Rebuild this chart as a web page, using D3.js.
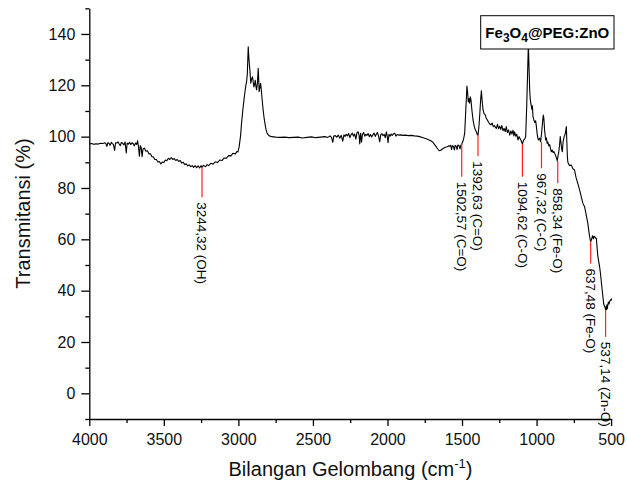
<!DOCTYPE html>
<html>
<head>
<meta charset="utf-8">
<script src="https://cdn.jsdelivr.net/npm/d3@7"></script>
<style>
  body { margin: 0; background: #fff; }
  svg text { font-family: "Liberation Sans", Arial, sans-serif; }
</style>
</head>
<body>
<div id="chart"></div>
<script>
// FTIR spectrum, wavenumber (cm-1) and transmittance (%)
var wavenumber = [4000,3985,3970,3955,3940,3925,3910,3895,3888,3882,3876,3868,3860,3852,3845,3838,3830,3824,3815,3808,
  3800,3792,3785,3776,3768,3760,3752,3746,3738,3730,3722,3714,3706,3698,3690,3682,3676,3670,3664,3658,
  3652,3646,3640,3630,3620,3610,3600,3590,3580,3570,3560,3550,3540,3530,3520,3510,3500,3490,3480,3470,
  3460,3450,3440,3430,3420,3410,3400,3390,3380,3370,3360,3350,3340,3330,3320,3310,3300,3290,3280,3270,
  3260,3250,3244,3235,3220,3210,3200,3185,3170,3155,3140,3125,3110,3095,3080,3065,3050,3037,3020,3010,
  3003,2995,2985,2979,2970,2962,2957,2950,2945,2940,2934,2929,2923,2917,2911,2905,2900,2896,2891,2887,
  2882,2878,2872,2867,2863,2861,2856,2851,2845,2840,2834,2828,2822,2815,2807,2795,2778,2750,2720,2690,
  2660,2630,2600,2570,2540,2510,2480,2450,2420,2400,2385,2375,2367,2360,2350,2340,2330,2320,2310,2300,
  2292,2284,2276,2268,2260,2252,2244,2236,2228,2220,2212,2205,2197,2190,2186,2180,2174,2168,2160,2152,
  2145,2138,2130,2122,2114,2106,2098,2090,2082,2075,2068,2060,2052,2045,2038,2030,2022,2015,2007,2002,
  1996,1990,1982,1975,1968,1960,1951,1944,1935,1925,1910,1895,1880,1860,1840,1820,1800,1784,1765,1750,
  1739,1725,1710,1695,1685,1675,1665,1655,1650,1640,1627,1615,1600,1590,1583,1576,1570,1565,1558,1551,
  1546,1540,1533,1528,1520,1514,1508,1502,1495,1488,1482,1475,1470,1467,1462,1458,1453,1449,1444,1440,
  1433,1426,1418,1410,1404,1398,1393,1388,1381,1375,1370,1365,1359,1352,1345,1337,1330,1322,1314,1306,
  1298,1290,1282,1275,1270,1262,1255,1247,1240,1233,1225,1218,1210,1203,1196,1188,1180,1172,1165,1158,
  1152,1147,1140,1133,1125,1118,1110,1103,1095,1088,1080,1073,1066,1060,1055,1050,1046,1042,1037,1031,
  1028,1024,1018,1012,1006,1001,995,988,980,973,966,960,955,951,946,939,934,929,924,918,
  912,906,901,895,889,884,879,873,867,861,856,851,846,841,836,831,827,822,815,808,
  804,800,797,793,790,780,767,756,745,735,722,711,700,689,678,667,656,650,644,640,
  637,633,629,625,622,618,614,611,607,603,599,595,590,585,577,570,563,555,550,545,
  540,537,534,531,528,525,522,518,514,510,505,500,497];

var transmittance = [97.1,97.3,97.0,97.2,97.1,97.4,97.3,97.6,97.2,96.2,97.6,97.4,96.6,97.8,97.3,96.9,94.6,97.6,97.5,98.0,
  97.2,96.5,97.7,97.4,96.8,97.9,93.6,97.5,97.1,97.8,96.9,97.6,97.3,96.4,97.5,97.0,98.4,96.0,92.4,96.5,
  95.8,92.2,95.2,95.5,94.3,94.5,93.3,93.3,92.2,92.1,91.1,91.1,90.1,90.3,89.4,90.1,89.9,90.9,90.6,91.6,
  91.1,91.8,91.1,91.5,90.7,91.1,90.3,90.7,89.7,90.0,89.1,89.4,88.6,89.0,88.3,88.7,88.0,88.7,87.9,88.6,
  87.8,88.7,88.0,88.8,88.3,89.1,88.7,89.6,89.3,90.2,89.9,90.9,90.7,91.7,91.6,92.6,92.5,93.5,93.3,94.2,
  94.0,96.0,100.5,105.2,110.5,114.5,117.0,120.0,121.4,124.5,135.0,130.0,126.0,120.8,122.5,123.3,121.0,119.4,120.5,122.0,
  119.5,118.2,121.0,126.6,121.5,117.5,119.0,120.8,117.5,114.0,110.4,107.5,105.2,102.8,101.3,100.4,100.0,99.8,99.7,99.8,
  99.6,99.7,99.8,99.5,99.7,99.9,99.6,99.8,100.0,99.7,100.3,99.6,97.8,100.2,100.4,99.8,100.6,99.4,100.5,98.2,
  100.7,100.1,100.9,100.3,101.2,99.6,100.8,101.4,100.2,101.0,99.0,101.5,101.9,100.4,97.2,101.3,97.8,100.8,101.6,100.2,
  100.9,100.5,101.2,100.0,100.8,99.9,100.7,101.4,100.1,100.9,101.6,100.3,98.0,100.8,101.2,100.4,100.9,99.6,101.9,100.3,
  97.6,100.9,100.2,101.0,100.5,101.1,101.3,100.2,100.8,100.6,100.7,100.5,100.6,100.4,100.5,100.3,100.2,100.0,99.7,99.4,
  99.2,98.8,98.4,97.8,97.0,96.2,95.4,94.6,94.5,94.8,95.4,95.8,96.1,96.4,96.3,96.6,94.9,96.5,96.3,94.8,
  96.6,96.4,95.0,96.7,96.5,95.2,96.6,97.1,98.0,99.5,101.4,110.0,116.0,119.7,117.0,113.5,114.8,113.0,115.5,114.3,
  110.0,106.5,104.0,102.6,101.9,100.9,100.6,103.0,108.5,114.5,117.9,114.0,110.4,109.0,108.6,107.1,106.5,105.6,104.9,104.6,
  105.3,103.9,104.3,103.5,103.2,104.8,103.1,104.1,102.8,104.3,102.3,103.2,102.0,103.9,101.6,102.6,100.6,102.2,101.0,102.5,
  100.3,101.9,100.2,100.9,98.7,100.0,99.2,98.4,97.1,98.5,99.0,100.0,112.0,125.0,136.0,126.0,118.0,114.3,112.5,110.5,
  112.0,107.8,106.5,105.5,106.2,103.9,100.5,98.7,99.4,98.0,101.5,105.5,108.4,107.0,102.5,98.7,99.5,97.4,97.9,96.4,
  96.9,95.3,94.1,94.8,93.8,94.2,93.5,92.8,91.8,90.6,92.5,94.0,96.5,100.0,97.5,95.0,94.1,98.0,100.0,101.0,
  102.5,103.9,98.0,92.0,90.0,88.8,88.9,87.5,87.0,84.0,81.5,79.2,76.5,74.0,72.7,69.5,66.2,63.5,61.0,59.8,
  59.1,59.7,60.3,61.4,61.0,60.2,61.2,61.0,60.8,60.4,60.4,57.5,54.0,52.0,49.3,46.0,42.0,37.6,35.0,34.0,
  33.5,32.4,33.8,32.6,34.5,33.0,34.4,35.6,34.8,35.7,36.4,36.2,37.0];

// assigned bands: position, transmittance at the band, lower end of the marker
var bandWn = [3244, 1502, 1393, 1095, 967, 858, 637, 537];
var bandTop = [88.0, 97.1, 100.6, 97.1, 98.0, 90.6, 59.1, 32.4];
var bandEnd = [76.4, 84.4, 92.4, 84.4, 87.7, 81.8, 50.6, 22.0];
var bandLabels = ["3244,32 (OH)", "1502,57 (C=O)", "1392,63 (C=O)", "1094,62 (C-O)",
  "967,32 (C-C)", "858,34 (Fe-O)", "637,48 (Fe-O)", "537,14 (Zn-O)"];

var xMajorTicks = [4000, 3500, 3000, 2500, 2000, 1500, 1000, 500];
var xMinorTicks = [3750, 3250, 2750, 2250, 1750, 1250, 750];
var yMajorTicks = [0, 20, 40, 60, 80, 100, 120, 140];
var yMinorTicks = [-10, 10, 30, 50, 70, 90, 110, 130, 150];

var width = 627, height = 489;

var svg = d3.select("#chart")
    .append("svg")
    .attr("width", width)
    .attr("height", height);

var x = d3.scaleLinear()
    .domain([4000, 496])
    .range([89.3, 611.7]);

var y = d3.scaleLinear()
    .domain([-10, 150])
    .range([419, 8.3]);

var spectrum = wavenumber.map(function(w, i) { return { w: w, t: transmittance[i] }; });

// spectrum line
svg.append("path")
    .datum(spectrum)
    .attr("fill", "none")
    .attr("stroke", "#000")
    .attr("stroke-width", 1.1)
    .attr("stroke-linejoin", "round")
    .attr("d", d3.line()
        .x(function(d) { return x(d.w); })
        .y(function(d) { return y(d.t); }));

// band markers
var bands = bandWn.map(function(w, i) {
    return { w: w, top: bandTop[i], end: bandEnd[i], label: bandLabels[i] };
});

svg.selectAll(".marker")
    .data(bands)
    .enter()
    .append("line")
    .attr("class", "marker")
    .attr("x1", function(d) { return x(d.w); })
    .attr("x2", function(d) { return x(d.w); })
    .attr("y1", function(d) { return y(d.top); })
    .attr("y2", function(d) { return y(d.end); })
    .attr("stroke", "#ff2020")
    .attr("stroke-width", 1.2);

svg.selectAll(".band-label")
    .data(bands)
    .enter()
    .append("text")
    .attr("class", "band-label")
    .attr("transform", function(d) {
        return "translate(" + x(d.w) + "," + (y(d.end) + 5) + ")rotate(90)";
    })
    .attr("dy", "0.35em")
    .attr("font-size", "13.5px")
    .attr("fill", "#000")
    .text(function(d) { return d.label; });

// axes
svg.append("g")
    .attr("transform", "translate(0,419)")
    .call(d3.axisBottom(x).tickValues(xMajorTicks).tickFormat(d3.format("d"))
        .tickSize(7).tickPadding(8).tickSizeOuter(0));

svg.append("g")
    .attr("transform", "translate(0,419)")
    .call(d3.axisBottom(x).tickValues(xMinorTicks).tickSize(4).tickFormat("").tickSizeOuter(0))
    .select(".domain").remove();

svg.append("g")
    .attr("transform", "translate(89.3,0)")
    .call(d3.axisLeft(y).tickValues(yMajorTicks).tickFormat(d3.format("d"))
        .tickSize(8).tickPadding(6).tickSizeOuter(0));

svg.append("g")
    .attr("transform", "translate(89.3,0)")
    .call(d3.axisLeft(y).tickValues(yMinorTicks).tickSize(4).tickFormat("").tickSizeOuter(0))
    .select(".domain").remove();

svg.selectAll(".domain, .tick line")
    .attr("stroke", "#000")
    .attr("stroke-width", 1.3);

svg.selectAll(".tick text")
    .attr("font-family", "'Liberation Sans', Arial, sans-serif")
    .attr("font-size", "16px")
    .attr("fill", "#111");

// axis titles
svg.append("text")
    .attr("transform", "translate(22.5,213.5)rotate(-90)")
    .attr("text-anchor", "middle")
    .attr("dy", "0.35em")
    .attr("font-size", "20px")
    .attr("fill", "#111")
    .text("Transmitansi (%)");

var xTitle = svg.append("text")
    .attr("x", 350.5)
    .attr("y", 476)
    .attr("text-anchor", "middle")
    .attr("font-size", "20px")
    .attr("fill", "#111");
xTitle.append("tspan").text("Bilangan Gelombang (cm");
xTitle.append("tspan").attr("dy", -8).attr("font-size", "13px").text("-1");
xTitle.append("tspan").attr("dy", 8).text(")");

// legend box
svg.append("rect")
    .attr("x", 480.7)
    .attr("y", 15.7)
    .attr("width", 133.3)
    .attr("height", 33.3)
    .attr("fill", "#fff")
    .attr("stroke", "#000")
    .attr("stroke-width", 1);

var title = svg.append("text")
    .attr("x", 547.3)
    .attr("y", 37.5)
    .attr("text-anchor", "middle")
    .attr("font-size", "15px")
    .attr("font-weight", "bold")
    .attr("fill", "#000");
title.append("tspan").text("Fe");
title.append("tspan").attr("dy", 4).attr("font-size", "12px").text("3");
title.append("tspan").attr("dy", -4).text("O");
title.append("tspan").attr("dy", 4).attr("font-size", "12px").text("4");
title.append("tspan").attr("dy", -4).text("@PEG:ZnO");
</script>
</body>
</html>
